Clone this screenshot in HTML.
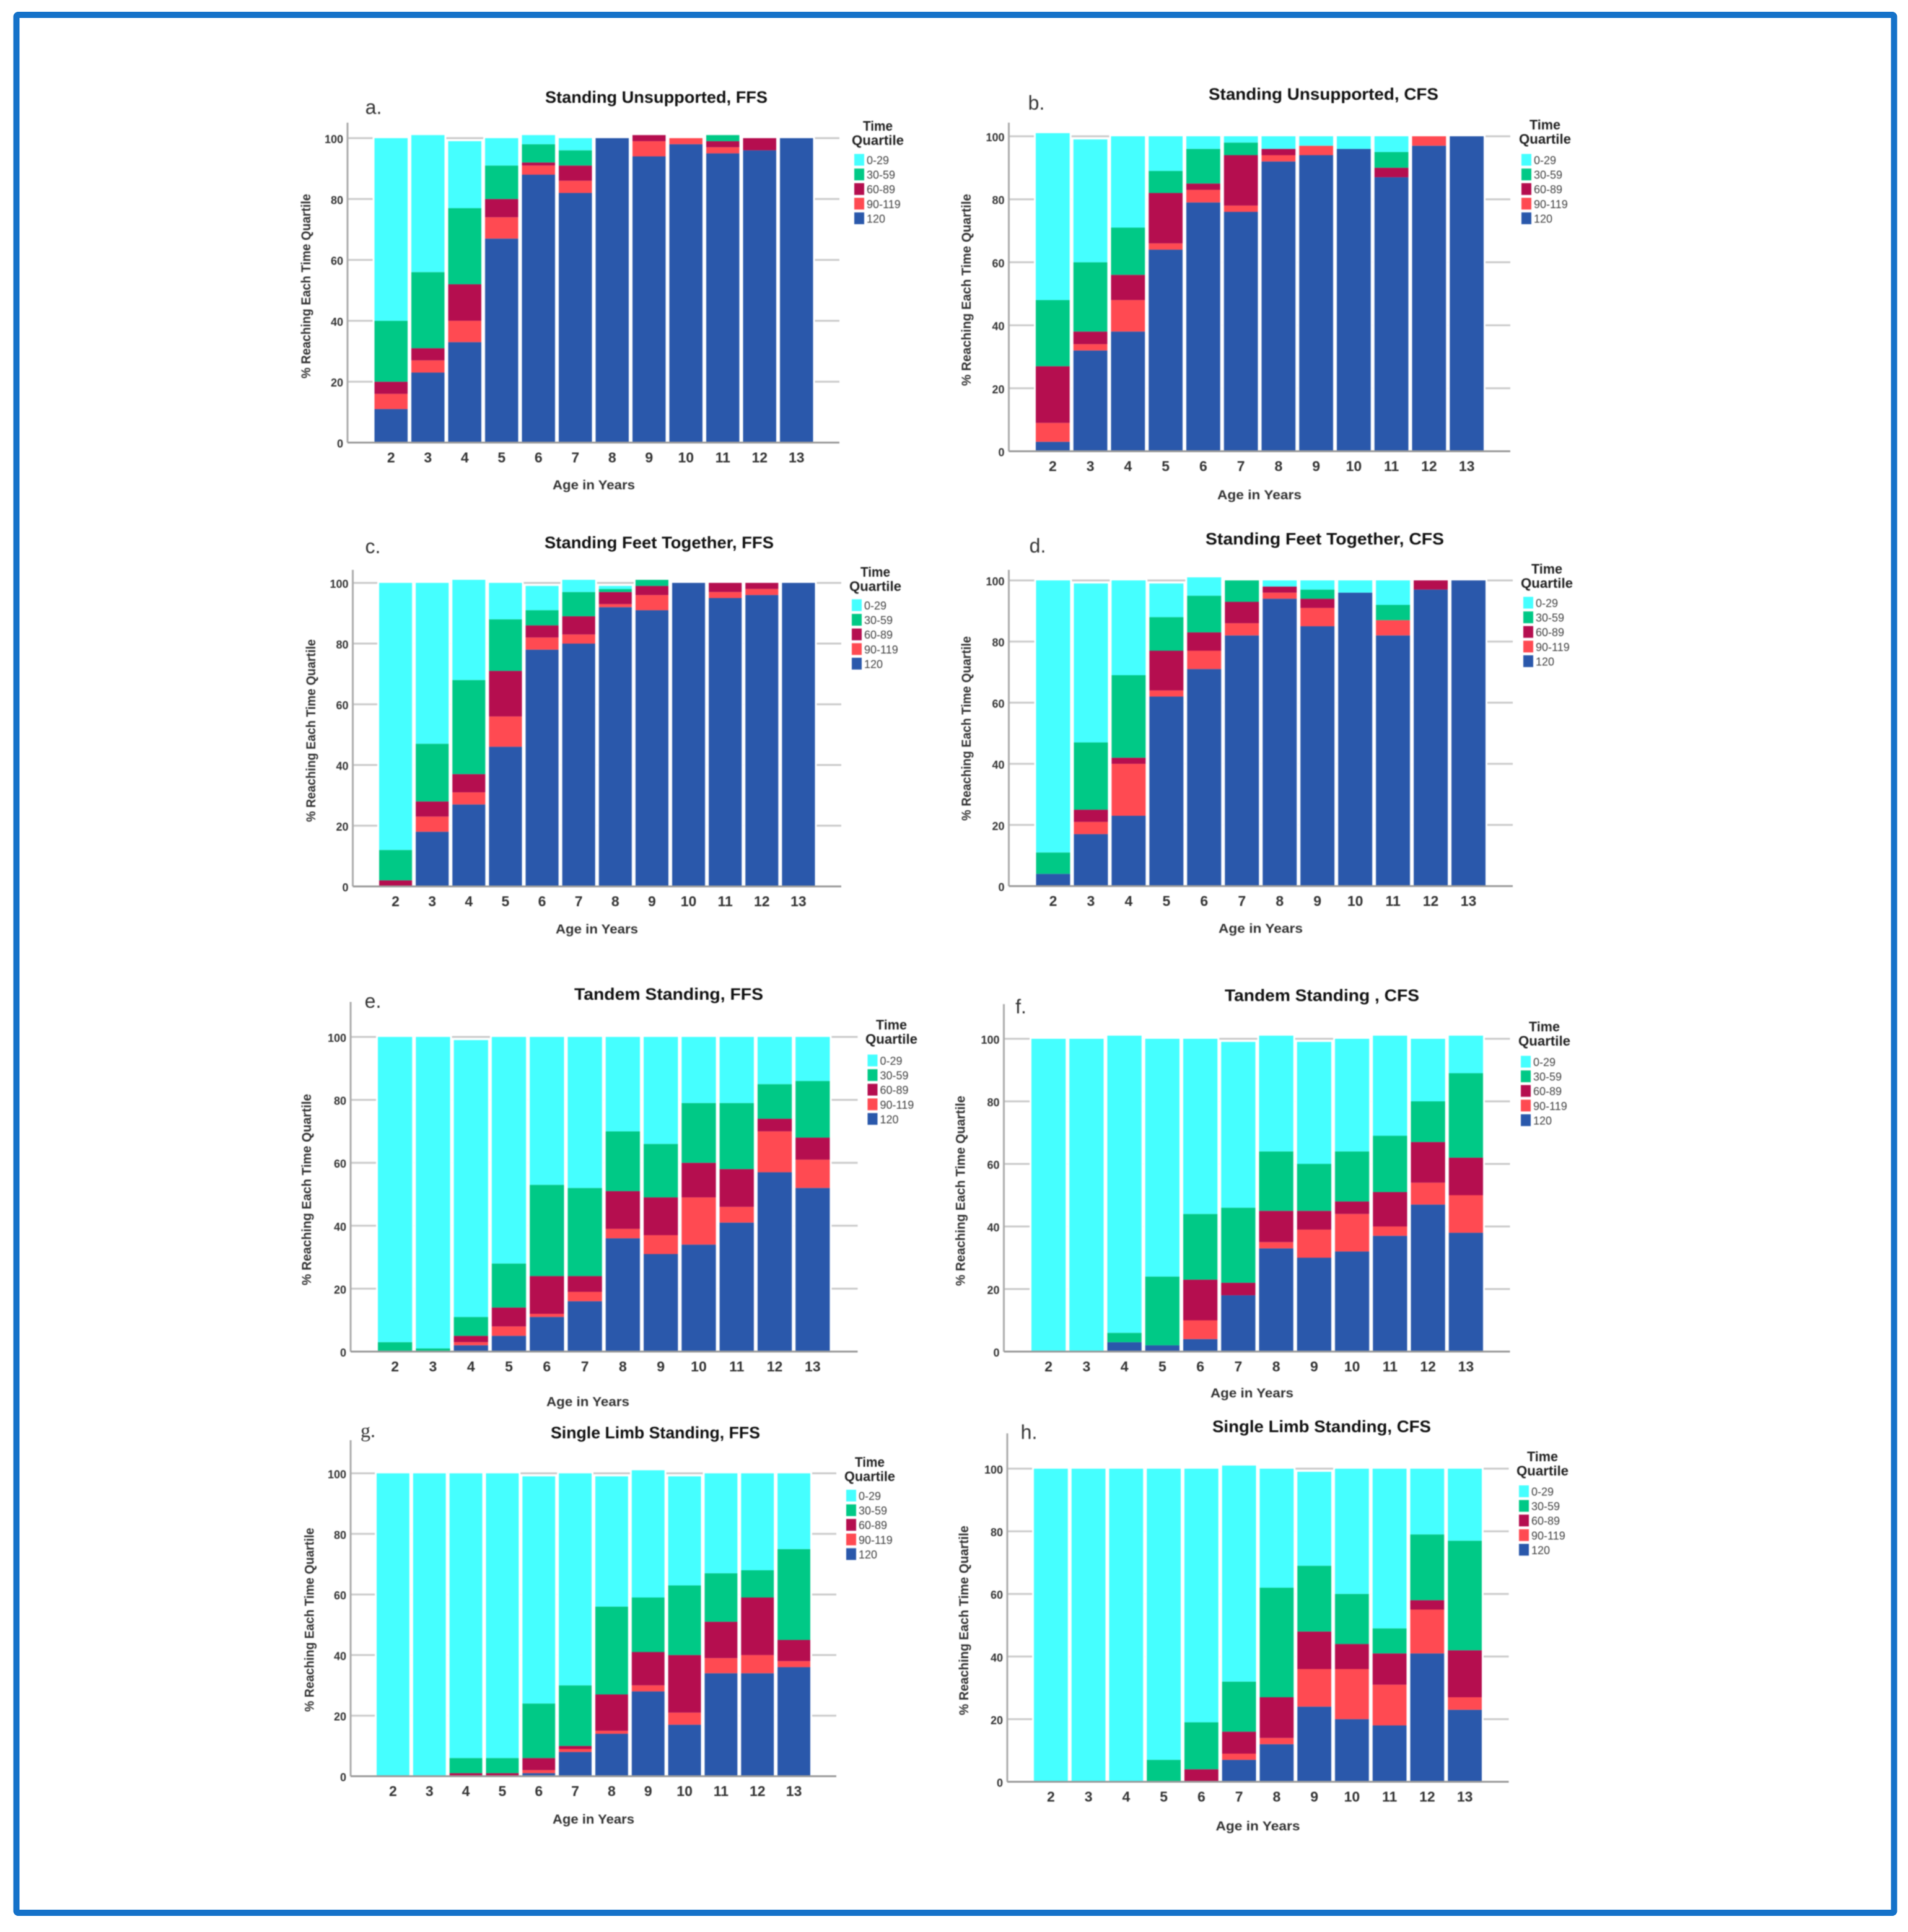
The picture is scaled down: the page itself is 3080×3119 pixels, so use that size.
<!DOCTYPE html>
<html lang="en">
<head>
<meta charset="utf-8">
<title>Standing balance time quartiles by age</title>
<style>
  html, body { margin: 0; padding: 0; background: #fff; }
  svg { display: block; font-family: "Liberation Sans", sans-serif; }
  .charts { filter: blur(0.7px); }
  .title { font-size: 27px; font-weight: 700; fill: #111; text-anchor: middle; }
  .letter { font-size: 32px; fill: #333; text-anchor: middle; }
  .axis-title { font-size: 21px; font-weight: 700; fill: #333; text-anchor: middle; }
  .legend-title { font-size: 22px; font-weight: 700; fill: #222; text-anchor: middle; }
  .legend-label { font-size: 18px; fill: #444; }
  .tick-y { font-size: 18px; font-weight: 700; fill: #333; text-anchor: end; }
  .tick-x { font-size: 23px; font-weight: 700; fill: #333; text-anchor: middle; }
</style>
</head>
<body>
<svg id="figure" xmlns="http://www.w3.org/2000/svg" width="3080" height="3119" viewBox="0 0 3080 3119">
  <rect x="0" y="0" width="3080" height="3119" fill="#fff"/>
  <rect x="26.5" y="24" width="3031" height="3064" rx="3" fill="none" stroke="#1572C9" stroke-width="10"/>
  <g class="charts">

    <g id="panel-a">
      <text class="letter" x="603" y="184">a.</text>
      <text class="title" x="1059.5" y="166" textLength="359" lengthAdjust="spacingAndGlyphs">Standing Unsupported, FFS</text>
      <text class="axis-title" transform="translate(501,462) rotate(-90)" textLength="298" lengthAdjust="spacingAndGlyphs">% Reaching Each Time Quartile</text>
      <text class="axis-title" x="958.5" y="790" textLength="133" lengthAdjust="spacingAndGlyphs">Age in Years</text>
      <text class="legend-title" x="1417" y="211" textLength="48" lengthAdjust="spacingAndGlyphs">Time</text>
      <text class="legend-title" x="1417" y="234" textLength="84" lengthAdjust="spacingAndGlyphs">Quartile</text>
    </g>

    <g id="panel-b">
      <text class="letter" x="1673" y="177">b.</text>
      <text class="title" x="2136.5" y="161" textLength="371" lengthAdjust="spacingAndGlyphs">Standing Unsupported, CFS</text>
      <text class="axis-title" transform="translate(1567,468) rotate(-90)" textLength="310" lengthAdjust="spacingAndGlyphs">% Reaching Each Time Quartile</text>
      <text class="axis-title" x="2033" y="806" textLength="136" lengthAdjust="spacingAndGlyphs">Age in Years</text>
      <text class="legend-title" x="2494" y="209" textLength="50" lengthAdjust="spacingAndGlyphs">Time</text>
      <text class="legend-title" x="2494" y="232" textLength="84" lengthAdjust="spacingAndGlyphs">Quartile</text>
    </g>

    <g id="panel-c">
      <text class="letter" x="602" y="893">c.</text>
      <text class="title" x="1064" y="885" textLength="370" lengthAdjust="spacingAndGlyphs">Standing Feet Together, FFS</text>
      <text class="axis-title" transform="translate(509,1179.5) rotate(-90)" textLength="295" lengthAdjust="spacingAndGlyphs">% Reaching Each Time Quartile</text>
      <text class="axis-title" x="963.5" y="1507" textLength="133" lengthAdjust="spacingAndGlyphs">Age in Years</text>
      <text class="legend-title" x="1413" y="931" textLength="48" lengthAdjust="spacingAndGlyphs">Time</text>
      <text class="legend-title" x="1413" y="954" textLength="84" lengthAdjust="spacingAndGlyphs">Quartile</text>
    </g>

    <g id="panel-d">
      <text class="letter" x="1675" y="892">d.</text>
      <text class="title" x="2138.5" y="879" textLength="385" lengthAdjust="spacingAndGlyphs">Standing Feet Together, CFS</text>
      <text class="axis-title" transform="translate(1567,1176) rotate(-90)" textLength="298" lengthAdjust="spacingAndGlyphs">% Reaching Each Time Quartile</text>
      <text class="axis-title" x="2035" y="1506" textLength="136" lengthAdjust="spacingAndGlyphs">Age in Years</text>
      <text class="legend-title" x="2497" y="926" textLength="50" lengthAdjust="spacingAndGlyphs">Time</text>
      <text class="legend-title" x="2497" y="949" textLength="84" lengthAdjust="spacingAndGlyphs">Quartile</text>
    </g>

    <g id="panel-e">
      <text class="letter" x="602" y="1627">e.</text>
      <text class="title" x="1079.5" y="1614" textLength="305" lengthAdjust="spacingAndGlyphs">Tandem Standing, FFS</text>
      <text class="axis-title" transform="translate(502,1920.5) rotate(-90)" textLength="309" lengthAdjust="spacingAndGlyphs">% Reaching Each Time Quartile</text>
      <text class="axis-title" x="949" y="2270" textLength="134" lengthAdjust="spacingAndGlyphs">Age in Years</text>
      <text class="legend-title" x="1439" y="1662" textLength="50" lengthAdjust="spacingAndGlyphs">Time</text>
      <text class="legend-title" x="1439" y="1685" textLength="84" lengthAdjust="spacingAndGlyphs">Quartile</text>
    </g>

    <g id="panel-f">
      <text class="letter" x="1648" y="1636" fill="#111">f.</text>
      <text class="title" x="2134" y="1616" textLength="314" lengthAdjust="spacingAndGlyphs">Tandem Standing , CFS</text>
      <text class="axis-title" transform="translate(1557.5,1922.5) rotate(-90)" textLength="307" lengthAdjust="spacingAndGlyphs">% Reaching Each Time Quartile</text>
      <text class="axis-title" x="2021" y="2256" textLength="134" lengthAdjust="spacingAndGlyphs">Age in Years</text>
      <text class="legend-title" x="2493" y="1665" textLength="50" lengthAdjust="spacingAndGlyphs">Time</text>
      <text class="legend-title" x="2493" y="1688" textLength="84" lengthAdjust="spacingAndGlyphs">Quartile</text>
    </g>

    <g id="panel-g">
      <text class="letter" x="594" y="2320" style="font-family:'Liberation Serif',serif">g.</text>
      <text class="title" x="1058" y="2322" textLength="338" lengthAdjust="spacingAndGlyphs">Single Limb Standing, FFS</text>
      <text class="axis-title" transform="translate(506.5,2615) rotate(-90)" textLength="297" lengthAdjust="spacingAndGlyphs">% Reaching Each Time Quartile</text>
      <text class="axis-title" x="958" y="2944" textLength="132" lengthAdjust="spacingAndGlyphs">Age in Years</text>
      <text class="legend-title" x="1404" y="2368" textLength="48" lengthAdjust="spacingAndGlyphs">Time</text>
      <text class="legend-title" x="1404" y="2391" textLength="82" lengthAdjust="spacingAndGlyphs">Quartile</text>
    </g>

    <g id="panel-h">
      <text class="letter" x="1661" y="2323">h.</text>
      <text class="title" x="2133.5" y="2312" textLength="353" lengthAdjust="spacingAndGlyphs">Single Limb Standing, CFS</text>
      <text class="axis-title" transform="translate(1563,2616) rotate(-90)" textLength="306" lengthAdjust="spacingAndGlyphs">% Reaching Each Time Quartile</text>
      <text class="axis-title" x="2030.5" y="2955" textLength="136" lengthAdjust="spacingAndGlyphs">Age in Years</text>
      <text class="legend-title" x="2490" y="2359" textLength="50" lengthAdjust="spacingAndGlyphs">Time</text>
      <text class="legend-title" x="2490" y="2382" textLength="84" lengthAdjust="spacingAndGlyphs">Quartile</text>
    </g>

  </g>
</svg>

<script>
// Shared categories and labels
const ages = ["2", "3", "4", "5", "6", "7", "8", "9", "10", "11", "12", "13"];
const yTickValues = [0, 20, 40, 60, 80, 100];
const quartileLabels = ["0-29", "30-59", "60-89", "90-119", "120"];

// Panel a
const aQ120 = [11, 23, 33, 67, 88, 82, 100, 94, 98, 95, 96, 100];
const aQ90 = [5, 4, 7, 7, 3, 4, 0, 5, 2, 2, 0, 0];
const aQ60 = [4, 4, 12, 6, 1, 5, 0, 2, 0, 2, 4, 0];
const aQ30 = [20, 25, 25, 11, 6, 5, 0, 0, 0, 2, 0, 0];
const aQ0 = [60, 45, 22, 9, 3, 4, 0, 0, 0, 0, 0, 0];
// Panel b
const bQ120 = [3, 32, 38, 64, 79, 76, 92, 94, 96, 87, 97, 100];
const bQ90 = [6, 2, 10, 2, 4, 2, 2, 3, 0, 0, 3, 0];
const bQ60 = [18, 4, 8, 16, 2, 16, 2, 0, 0, 3, 0, 0];
const bQ30 = [21, 22, 15, 7, 11, 4, 0, 0, 0, 5, 0, 0];
const bQ0 = [53, 39, 29, 11, 4, 2, 4, 3, 4, 5, 0, 0];
// Panel c
const cQ120 = [0, 18, 27, 46, 78, 80, 92, 91, 100, 95, 96, 100];
const cQ90 = [0, 5, 4, 10, 4, 3, 1, 5, 0, 2, 2, 0];
const cQ60 = [2, 5, 6, 15, 4, 6, 4, 3, 0, 3, 2, 0];
const cQ30 = [10, 19, 31, 17, 5, 8, 1, 2, 0, 0, 0, 0];
const cQ0 = [88, 53, 33, 12, 8, 4, 1, 0, 0, 0, 0, 0];
// Panel d
const dQ120 = [4, 17, 23, 62, 71, 82, 94, 85, 96, 82, 97, 100];
const dQ90 = [0, 4, 17, 2, 6, 4, 2, 6, 0, 5, 0, 0];
const dQ60 = [0, 4, 2, 13, 6, 7, 2, 3, 0, 0, 3, 0];
const dQ30 = [7, 22, 27, 11, 12, 7, 0, 3, 0, 5, 0, 0];
const dQ0 = [89, 52, 31, 11, 6, 0, 2, 3, 4, 8, 0, 0];
// Panel e
const eQ120 = [0, 0, 2, 5, 11, 16, 36, 31, 34, 41, 57, 52];
const eQ90 = [0, 0, 1, 3, 1, 3, 3, 6, 15, 5, 13, 9];
const eQ60 = [0, 0, 2, 6, 12, 5, 12, 12, 11, 12, 4, 7];
const eQ30 = [3, 1, 6, 14, 29, 28, 19, 17, 19, 21, 11, 18];
const eQ0 = [97, 99, 88, 72, 47, 48, 30, 34, 21, 21, 15, 14];
// Panel f
const fQ120 = [0, 0, 3, 2, 4, 18, 33, 30, 32, 37, 47, 38];
const fQ90 = [0, 0, 0, 0, 6, 0, 2, 9, 12, 3, 7, 12];
const fQ60 = [0, 0, 0, 0, 13, 4, 10, 6, 4, 11, 13, 12];
const fQ30 = [0, 0, 3, 22, 21, 24, 19, 15, 16, 18, 13, 27];
const fQ0 = [100, 100, 95, 76, 56, 53, 37, 39, 36, 32, 20, 12];
// Panel g
const gQ120 = [0, 0, 0, 0, 1, 8, 14, 28, 17, 34, 34, 36];
const gQ90 = [0, 0, 0, 0, 1, 1, 1, 2, 4, 5, 6, 2];
const gQ60 = [0, 0, 1, 1, 4, 1, 12, 11, 19, 12, 19, 7];
const gQ30 = [0, 0, 5, 5, 18, 20, 29, 18, 23, 16, 9, 30];
const gQ0 = [100, 100, 94, 94, 75, 70, 43, 42, 36, 33, 32, 25];
// Panel h
const hQ120 = [0, 0, 0, 0, 0, 7, 12, 24, 20, 18, 41, 23];
const hQ90 = [0, 0, 0, 0, 0, 2, 2, 12, 16, 13, 14, 4];
const hQ60 = [0, 0, 0, 0, 4, 7, 13, 12, 8, 10, 3, 15];
const hQ30 = [0, 0, 0, 7, 15, 16, 35, 21, 16, 8, 21, 35];
const hQ0 = [100, 100, 100, 93, 81, 69, 38, 30, 40, 51, 21, 23];

// Stacking order is bottom to top. Colours follow the same order.
const stackColors = ["#2A58AB", "#FF4A52", "#B50E4F", "#00C986", "#45FFFF"];
const legendColors = ["#45FFFF", "#00C986", "#B50E4F", "#FF4A52", "#2A58AB"];

const panelSeries = {
  a: [aQ120, aQ90, aQ60, aQ30, aQ0],
  b: [bQ120, bQ90, bQ60, bQ30, bQ0],
  c: [cQ120, cQ90, cQ60, cQ30, cQ0],
  d: [dQ120, dQ90, dQ60, dQ30, dQ0],
  e: [eQ120, eQ90, eQ60, eQ30, eQ0],
  f: [fQ120, fQ90, fQ60, fQ30, fQ0],
  g: [gQ120, gQ90, gQ60, gQ30, gQ0],
  h: [hQ120, hQ90, hQ60, hQ30, hQ0]
};

// Plot frames (layout only, no data values)
const frames = {
  a: { axisX: 561, axisRight: 1355, axisTop: 198, y0: 714.5, y100: 223, barLeft: 604.5, barRight: 1312.5, legendX: 1379, legendY: 258 },
  b: { axisX: 1628.5, axisRight: 2438, axisTop: 198, y0: 728.5, y100: 220, barLeft: 1672, barRight: 2395, legendX: 2456, legendY: 258 },
  c: { axisX: 569.5, axisRight: 1358, axisTop: 920, y0: 1431, y100: 941, barLeft: 612, barRight: 1315.5, legendX: 1375, legendY: 977 },
  d: { axisX: 1628.5, axisRight: 2442, axisTop: 920, y0: 1430.5, y100: 937, barLeft: 1672.5, barRight: 2398, legendX: 2459, legendY: 973 },
  e: { axisX: 566, axisRight: 1384.5, axisTop: 1617.5, y0: 2182, y100: 1674, barLeft: 610, barRight: 1339.5, legendX: 1400.5, legendY: 1712 },
  f: { axisX: 1620.5, axisRight: 2437.5, axisTop: 1621, y0: 2182, y100: 1677, barLeft: 1665, barRight: 2394, legendX: 2455, legendY: 1714 },
  g: { axisX: 566, axisRight: 1350, axisTop: 2325, y0: 2867.5, y100: 2378.5, barLeft: 608, barRight: 1308, legendX: 1366, legendY: 2414.5 },
  h: { axisX: 1626, axisRight: 2435.5, axisTop: 2314, y0: 2876.5, y100: 2371, barLeft: 1669, barRight: 2392, legendX: 2452, legendY: 2407.5 }
};

const NS = "http://www.w3.org/2000/svg";
const BAR_GAP = 6;
const LEGEND_STEP = 23.6;

function makeScaleY(frame) {
  return function (value) {
    return frame.y0 - (frame.y0 - frame.y100) * value / 100;
  };
}

function makeBandX(frame, count) {
  const step = (frame.barRight - frame.barLeft + BAR_GAP) / count;
  return {
    width: step - BAR_GAP,
    left: function (index) { return frame.barLeft + step * index; },
    center: function (index) { return frame.barLeft + step * index + (step - BAR_GAP) / 2; }
  };
}

function drawPanel(key) {
  const frame = frames[key];
  const series = panelSeries[key];
  const root = document.getElementById("panel-" + key);
  const scaleY = makeScaleY(frame);
  const bandX = makeBandX(frame, ages.length);

  // Gridlines
  yTickValues.forEach(function (tick) {
    if (tick === 0) return;
    const grid = document.createElementNS(NS, "line");
    
    
    grid.setAttribute("x1", frame.axisX);
    grid.setAttribute("x2", frame.axisRight);
    grid.setAttribute("y1", scaleY(tick));
    grid.setAttribute("y2", scaleY(tick));
    grid.setAttribute("stroke", "#CACACA");
    grid.setAttribute("stroke-width", "3");
    root.appendChild(grid);
  });

  // Bars
  ages.forEach(function (age, index) {
    let total = 0;
    series.forEach(function (values) { total += values[index]; });

    const halo = document.createElementNS(NS, "rect");
    
    
    halo.setAttribute("x", bandX.left(index) - BAR_GAP / 2);
    halo.setAttribute("y", scaleY(total) - 3);
    halo.setAttribute("width", bandX.width + BAR_GAP);
    halo.setAttribute("height", scaleY(0) - scaleY(total) + 3);
    halo.setAttribute("fill", "#fff");
    root.appendChild(halo);

    let base = 0;
    series.forEach(function (values, seriesIndex) {
      const value = values[index];
      if (value > 0) {
        const segment = document.createElementNS(NS, "rect");
        
        
        segment.setAttribute("x", bandX.left(index));
        segment.setAttribute("y", scaleY(base + value));
        segment.setAttribute("width", bandX.width);
        segment.setAttribute("height", scaleY(base) - scaleY(base + value));
        segment.setAttribute("fill", stackColors[seriesIndex]);
        root.appendChild(segment);
      }
      base += value;
    });

    const ageLabel = document.createElementNS(NS, "text");
    
    
    ageLabel.setAttribute("class", "tick-x");
    ageLabel.setAttribute("x", bandX.center(index));
    ageLabel.setAttribute("y", frame.y0 + 32);
    ageLabel.textContent = age;
    root.appendChild(ageLabel);
  });

  // Axes
  const yAxis = document.createElementNS(NS, "line");
  
  
  yAxis.setAttribute("x1", frame.axisX);
  yAxis.setAttribute("x2", frame.axisX);
  yAxis.setAttribute("y1", frame.axisTop);
  yAxis.setAttribute("y2", frame.y0);
  yAxis.setAttribute("stroke", "#ABABAB");
  yAxis.setAttribute("stroke-width", "3");
  root.appendChild(yAxis);

  const xAxis = document.createElementNS(NS, "line");
  
  
  xAxis.setAttribute("x1", frame.axisX);
  xAxis.setAttribute("x2", frame.axisRight);
  xAxis.setAttribute("y1", frame.y0);
  xAxis.setAttribute("y2", frame.y0);
  xAxis.setAttribute("stroke", "#9A9A9A");
  xAxis.setAttribute("stroke-width", "3");
  root.appendChild(xAxis);

  // Y tick labels
  yTickValues.forEach(function (tick) {
    const label = document.createElementNS(NS, "text");
    
    
    label.setAttribute("class", "tick-y");
    label.setAttribute("x", frame.axisX - 7);
    label.setAttribute("y", scaleY(tick) + 8);
    label.textContent = String(tick);
    root.appendChild(label);
  });

  // Legend
  quartileLabels.forEach(function (name, index) {
    const centerY = frame.legendY + LEGEND_STEP * index;

    const swatch = document.createElementNS(NS, "rect");
    
    
    swatch.setAttribute("x", frame.legendX);
    swatch.setAttribute("y", centerY - 9.5);
    swatch.setAttribute("width", 16);
    swatch.setAttribute("height", 19);
    swatch.setAttribute("fill", legendColors[index]);
    root.appendChild(swatch);

    const text = document.createElementNS(NS, "text");
    
    
    text.setAttribute("class", "legend-label");
    text.setAttribute("x", frame.legendX + 20);
    text.setAttribute("y", centerY + 7);
    text.textContent = name;
    root.appendChild(text);
  });
}

Object.keys(frames).forEach(drawPanel);
</script>
</body>
</html>
